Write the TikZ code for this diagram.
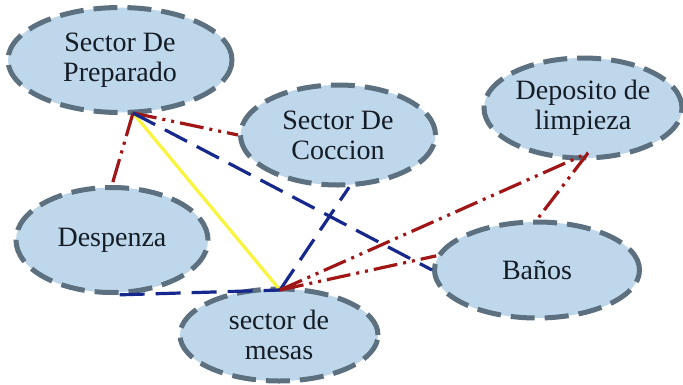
\documentclass[tikz,border=0pt]{standalone}
\usepackage{fontspec}
\setmainfont{Liberation Serif}
\usetikzlibrary{shapes.geometric}
\definecolor{fillb}{RGB}{190,215,235}
\definecolor{bord}{RGB}{92,112,128}
\definecolor{dred}{RGB}{160,22,22}
\definecolor{navy}{RGB}{22,40,140}
\definecolor{yel}{RGB}{248,245,60}
\definecolor{txt}{RGB}{20,28,38}
\tikzset{
  area/.style={ellipse, fill=fillb, draw=bord, line width=5pt,
    dash pattern=on 24pt off 10pt, text=txt, align=center,
    font=\fontsize{28}{30}\selectfont, inner sep=0pt},
  redline/.style={dred, line width=3.2pt, dash pattern=on 24pt off 6pt on 3pt off 6pt on 3pt off 6pt},
  blueline/.style={navy, line width=3.2pt, dash pattern=on 25pt off 11pt},
  yelline/.style={yel, line width=3.2pt}
}
\begin{document}
\begin{tikzpicture}[x=1pt,y=-1pt]
\useasboundingbox (0,0) rectangle (683,384);
\node[area, minimum width=224pt, minimum height=105pt] (prep) at (120,60) {Sector De\\Preparado};
\node[area, minimum width=195pt, minimum height=100pt] (coc) at (338,135) {Sector De\\Coccion};
\node[area, minimum width=198pt, minimum height=100pt] (dep) at (583,108) {Deposito de\\limpieza};
\node[area, minimum width=192pt, minimum height=105pt] (desp) at (112,240) {Despenza};
\node[area, minimum width=198pt, minimum height=92pt] (mes) at (279,335) {sector de\\mesas};
\node[area, minimum width=205pt, minimum height=96pt] (ban) at (537,270) {Baños};
\coordinate (hubP) at (133,113);
\coordinate (hubM) at (280,290);
\coordinate (depB) at (588,153);
\draw[yelline] (hubP) -- (hubM);
\draw[redline] (hubP) -- (desp.north);
\draw[redline] (hubP) -- (coc.west);
\draw[blueline] (hubP) -- (ban.west);
\draw[blueline] (desp.-82) -- (hubM);
\draw[blueline] (hubM) -- (coc.-78);
\draw[redline] (hubM) -- (depB);
\draw[redline] (hubM) -- (ban.172);
\draw[redline] (depB) -- (ban.north);
\end{tikzpicture}
\end{document}
